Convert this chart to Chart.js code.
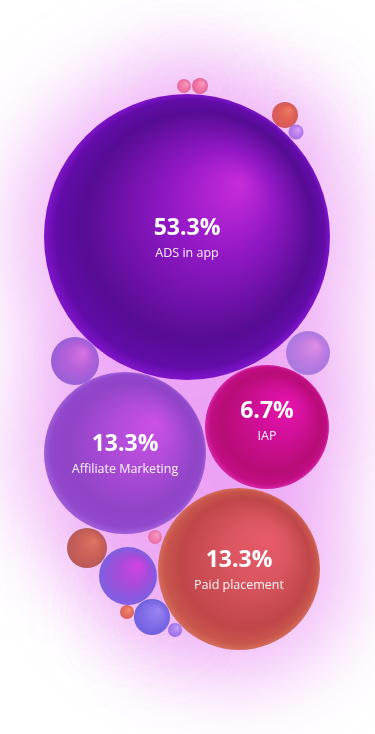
<!DOCTYPE html>
<html>
<head>
<meta charset="utf-8">
<script src="https://cdn.jsdelivr.net/npm/chart.js@4"></script>
<style>
html,body{margin:0;padding:0;background:#fff;}
#wrap{position:relative;width:375px;height:734px;}
canvas{display:block;}
</style>
</head>
<body>
<div id="wrap"><canvas id="c" width="375" height="734"></canvas></div>
<script>
// ---- data ----
const categories = ["ADS in app", "Affiliate Marketing", "IAP", "Paid placement"];
const shares = [53.3, 13.3, 6.7, 13.3];
const mainX = [187, 125, 267, 239];
const mainY = [237, 453, 427, 569];
const mainR = [143, 81, 62, 81];

const decoX = [75, 308, 184, 200, 285, 296, 87, 128, 155, 152, 127, 175];
const decoY = [361, 353, 86, 86, 115, 132, 548, 576, 537, 617, 612, 630];
const decoR = [24, 22, 7, 8, 13, 7.5, 20, 29, 7, 18, 7, 7];

// ---- styles ----
const labelShift = [0, 0, -7, 0];
const mainStops = [
  ["#c82cda", "#9018c4", "#560c94", "#620ca8", "#8014cc"],
  ["#cc50e6", "#b04cd8", "#9044c6", "#9248cc", "#a05ed8"],
  ["#e614ac", "#d2109a", "#b80c76", "#c20e84", "#d626a6"],
  ["#e85a6a", "#da5660", "#c0464a", "#c8564c", "#d46c5c"]
];
const decoStops = [
  ["#d872e4", "#b460d8", "#9860d8"],
  ["#dc8ee6", "#c07ce0", "#a878e0"],
  ["#f7a0c0", "#f07aa8", "#e86a9c"],
  ["#f7a0c0", "#f07aa8", "#e4609a"],
  ["#ee7a66", "#e06254", "#d45860"],
  ["#d8a0f8", "#c080f0", "#a870e8"],
  ["#de7462", "#cc6258", "#b85a5a"],
  ["#d442e2", "#a44cdc", "#7c60e0"],
  ["#f8a0c8", "#f080b0", "#e870a8"],
  ["#9c84f2", "#8470e8", "#7060e0"],
  ["#f08a70", "#e87060", "#d86060"],
  ["#c8a0f8", "#b080f0", "#9a70e8"]
];

function pts(xs, ys, rs){ return xs.map((x,i)=>({x:x, y:ys[i], r:rs[i]})); }

function grad(ctx, stops, small){
  const c = ctx.chart;
  if (!c.chartArea || !ctx.raw) return stops[1];
  const x = c.scales.x.getPixelForValue(ctx.raw.x);
  const y = c.scales.y.getPixelForValue(ctx.raw.y);
  const r = ctx.raw.r;
  const g = c.ctx.createRadialGradient(x + r*0.38, y - r*0.38, 0, x, y, r);
  if (small){
    g.addColorStop(0, stops[0]); g.addColorStop(0.55, stops[1]); g.addColorStop(1, stops[2]);
  } else {
    g.addColorStop(0, stops[0]); g.addColorStop(0.38, stops[1]); g.addColorStop(0.8, stops[2]);
    g.addColorStop(0.94, stops[3]); g.addColorStop(1, stops[4]);
  }
  return g;
}

const glowPlugin = {
  id: 'glow',
  beforeDatasetsDraw(chart){
    const ctx = chart.ctx;
    ctx.save();
    ctx.filter = 'blur(40px)';
    chart.data.datasets.forEach((ds, di) => {
      const meta = chart.getDatasetMeta(di);
      meta.data.forEach((el) => {
        const r = el.options.radius;
        ctx.beginPath();
        ctx.arc(el.x, el.y, r + (di === 0 ? 30 : 14), 0, Math.PI*2);
        ctx.fillStyle = di === 0 ? 'rgba(228,122,240,0.55)' : 'rgba(230,132,240,0.4)';
        ctx.fill();
      });
    });
    ctx.restore();
  }
};

const labelPlugin = {
  id: 'labels',
  afterDatasetsDraw(chart){
    const ctx = chart.ctx;
    const meta = chart.getDatasetMeta(0);
    ctx.save();
    ctx.textAlign = 'center';
    ctx.textBaseline = 'middle';
    meta.data.forEach((el, i) => {
      const s = labelShift[i];
      ctx.fillStyle = '#ffffff';
      ctx.font = 'bold 23px "Open Sans", Lato, sans-serif';
      ctx.fillText(shares[i].toFixed(1) + '%', el.x, el.y - 9 + s);
      ctx.font = '12.5px "Open Sans", Lato, sans-serif';
      ctx.fillStyle = 'rgba(255,255,255,0.95)';
      ctx.fillText(categories[i], el.x, el.y + 16 + s);
    });
    ctx.restore();
  }
};

new Chart(document.getElementById('c'), {
  type: 'bubble',
  data: {
    datasets: [
      {
        label: 'Revenue',
        data: pts(mainX, mainY, mainR),
        backgroundColor: (ctx) => grad(ctx, mainStops[ctx.dataIndex] || mainStops[0], false),
        borderWidth: 0,
        order: 0
      },
      {
        label: 'deco',
        data: pts(decoX, decoY, decoR),
        backgroundColor: (ctx) => grad(ctx, decoStops[ctx.dataIndex] || decoStops[0], true),
        borderWidth: 0,
        order: 1
      }
    ]
  },
  plugins: [glowPlugin, labelPlugin],
  options: {
    responsive: false,
    animation: false,
    events: [],
    layout: { padding: 0, autoPadding: false },
    clip: false,
    plugins: { legend: { display: false }, tooltip: { enabled: false } },
    scales: {
      x: { type: 'linear', min: 0, max: 375, display: false },
      y: { type: 'linear', min: 0, max: 734, reverse: true, display: false }
    }
  }
});
</script>
</body>
</html>
